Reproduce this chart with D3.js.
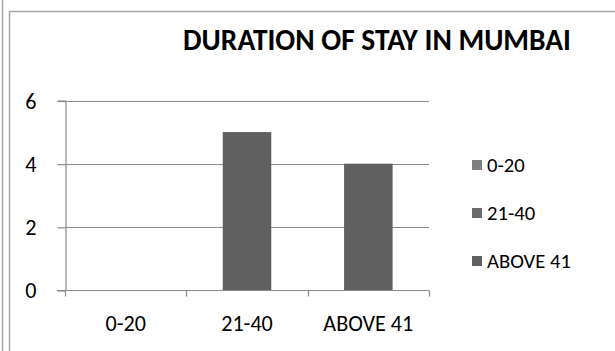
<!DOCTYPE html>
<html>
<head>
<meta charset="utf-8">
<script src="https://cdn.jsdelivr.net/npm/d3@7"></script>
<style>
  html, body { margin: 0; padding: 0; background: #fff; }
  svg text { font-family: Carlito, Calibri, Lato, "Open Sans", sans-serif; fill: #000; }
</style>
</head>
<body>
<svg id="chart" width="615" height="351"></svg>
<script>
// Duration of stay in Mumbai (years) — number of respondents per band
const categories = ["0-20", "21-40", "ABOVE 41"];
const counts = [0, 5, 4];
const yTicks = [0, 2, 4, 6];
const seriesColors = ["#7f7f7f", "#6b6b6b", "#606060"];
const titleText = "DURATION OF STAY IN MUMBAI";

const svg = d3.select("#chart");

// size a text element so that it spans the given width
function fitWidth(sel, width) {
  sel.style("font-size", "20px");
  const w = sel.node().getComputedTextLength();
  const size = 20 * width / w;
  return size;
}

// page frame lines
svg.append("line").attr("x1", 2.5).attr("x2", 2.5).attr("y1", 0).attr("y2", 351)
  .attr("stroke", "#a6a6a6").attr("stroke-width", 1.5);
svg.append("path").attr("d", "M9.5,351V11.5H615")
  .attr("fill", "none").attr("stroke", "#a6a6a6").attr("stroke-width", 1.5);

const plot = { left: 65, right: 429, top: 100.5, bottom: 290 };

const x = d3.scaleBand().domain(categories).range([plot.left, plot.right]).paddingInner(0).paddingOuter(0);
const y = d3.scaleLinear().domain([0, 6]).range([plot.bottom, plot.top]);

// horizontal gridlines
svg.append("g").selectAll("line").data(yTicks.filter(d => d > 0)).join("line")
  .attr("x1", plot.left).attr("x2", plot.right)
  .attr("y1", d => Math.round(y(d)) + 0.5).attr("y2", d => Math.round(y(d)) + 0.5)
  .attr("stroke", "#8a8a8a").attr("stroke-width", 1.2);

// bars
const barW = x.bandwidth() * 0.4;
svg.append("g").selectAll("rect").data(categories.map((c, i) => ({ c, v: counts[i] }))).join("rect")
  .attr("x", d => x(d.c) + (x.bandwidth() - barW) / 2)
  .attr("width", barW)
  .attr("y", d => y(d.v))
  .attr("height", d => y(0) - y(d.v))
  .attr("fill", "#606060");

// x axis: ticks at category boundaries, labels centred in each band
const gx = svg.append("g").attr("transform", `translate(0,${plot.bottom + 0.5})`);
gx.append("line").attr("x1", plot.left - 8).attr("x2", plot.right)
  .attr("stroke", "#8a8a8a").attr("stroke-width", 1.2);
const bounds = categories.map(c => x(c)).concat([x(categories[categories.length - 1]) + x.bandwidth()]);
gx.selectAll("line.b").data(bounds).join("line").attr("class", "b")
  .attr("x1", d => Math.round(d) + 0.5).attr("x2", d => Math.round(d) + 0.5)
  .attr("y1", 0).attr("y2", 6)
  .attr("stroke", "#8a8a8a").attr("stroke-width", 1.2);
const xLabels = gx.selectAll("text").data(categories).join("text")
  .attr("x", d => x(d) + x.bandwidth() / 2)
  .attr("y", 33)
  .attr("text-anchor", "middle")
  .attr("dy", "0.35em")
  .text(d => d);
const labelSize = fitWidth(xLabels.filter(d => d === "ABOVE 41"), 90);
xLabels.style("font-size", labelSize + "px");

// y axis
const yAxis = d3.axisLeft(y).tickValues(yTicks).tickSize(8).tickPadding(21).tickFormat(d3.format("d"));
const gy = svg.append("g").attr("transform", `translate(${plot.left + 0.5},0)`).call(yAxis);
gy.select(".domain").attr("stroke", "#8a8a8a").attr("stroke-width", 1.2);
gy.selectAll(".tick line").attr("stroke", "#8a8a8a").attr("stroke-width", 1.2)
  .attr("transform", "translate(0,0.5)");
gy.selectAll(".tick text").style("font-size", labelSize + "px").attr("dy", "0.35em");

// title
const title = svg.append("text").attr("x", 377).attr("y", 50).attr("text-anchor", "middle")
  .style("font-weight", "bold").text(titleText);
title.style("font-size", fitWidth(title, 388) + "px");

// legend
const legend = svg.append("g").selectAll("g").data(categories).join("g")
  .attr("transform", (d, i) => `translate(472,${165 + i * 48})`);
legend.append("rect").attr("x", 0).attr("y", -5).attr("width", 10).attr("height", 10)
  .attr("fill", (d, i) => seriesColors[i]);
const legendText = legend.append("text").attr("x", 15).attr("y", 0).attr("dy", "0.35em")
  .text(d => d);
const legendSize = fitWidth(legendText.filter(d => d === "ABOVE 41"), 84);
legendText.style("font-size", legendSize + "px");
</script>
</body>
</html>
